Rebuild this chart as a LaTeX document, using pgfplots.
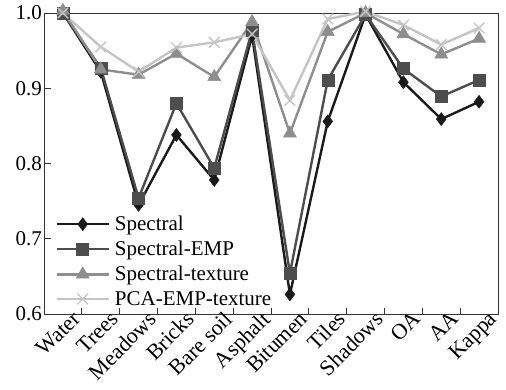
\documentclass[border=0pt]{standalone}
\usepackage{fontspec}
\setmainfont{Liberation Serif}
\usepackage{pgfplots}
\pgfplotsset{compat=1.18}
\definecolor{cA}{HTML}{1A1A1A}
\definecolor{cB}{HTML}{4D4D4D}
\definecolor{cC}{HTML}{8E8E8E}
\definecolor{cD}{HTML}{C4C4C4}
\begin{document}
\begin{tikzpicture}
\useasboundingbox (-44pt,-76pt) rectangle (462pt,314pt);
\begin{axis}[
  scale only axis, width=454pt, height=301pt,
  xmin=-0.5, xmax=11.5, ymin=0.6, ymax=1.0,
  clip=false,
  axis line style={draw=black!80, line width=0.8pt},
  tick style={draw=black!80, line width=0.8pt},
  xtick={0,...,11},
  xticklabels={Water,Trees,Meadows,Bricks,Bare soil,Asphalt,Bitumen,Tiles,Shadows,OA,AA,Kappa},
  major x tick style={draw=none},
  minor xtick={0.5,1.5,...,10.5},
  minor tick length=6pt,
  ytick={0.6,0.7,0.8,0.9,1.0},
  major tick length=7pt,
  tick pos=left,
  tick align=inside,
  yticklabel style={/pgf/number format/fixed, /pgf/number format/fixed zerofill, /pgf/number format/precision=1},
  /pgf/number format/assume math mode=true,
  y tick label style={font=\fontsize{21}{24}\selectfont, inner sep=1pt, xshift=-1pt},
  x tick label style={font=\fontsize{22}{24}\selectfont, rotate=45, anchor=north east, inner sep=1pt, xshift=10pt, yshift=-2pt},
  legend style={at={(0.025,0.02)}, anchor=south west, draw=none, fill=none,
    font=\fontsize{21}{24}\selectfont, row sep=7pt, inner sep=0pt,
    nodes={inner sep=1pt}},
  legend cell align=left,
  legend image code/.code={\draw[mark repeat=2,mark phase=2] plot coordinates {(0pt,0pt) (26pt,0pt) (52pt,0pt)}; \path (56pt,0pt);},
  every axis plot/.append style={line width=2.4pt},
]
\addplot[cA, mark=diamond*, mark size=6.5pt, mark options={solid, line width=0.5pt}] coordinates {
(0,1.0) (1,0.922) (2,0.745) (3,0.838) (4,0.778) (5,0.970) (6,0.626) (7,0.856) (8,0.998) (9,0.908) (10,0.859) (11,0.882)};
\addlegendentry{Spectral}
\addplot[cB, mark=square*, mark size=6pt, mark options={solid, line width=0.5pt}] coordinates {
(0,1.0) (1,0.927) (2,0.754) (3,0.880) (4,0.794) (5,0.977) (6,0.654) (7,0.911) (8,0.998) (9,0.926) (10,0.889) (11,0.911)};
\addlegendentry{Spectral-EMP}
\addplot[cC, mark=triangle*, mark size=7.5pt, mark options={solid, line width=0.5pt}] coordinates {
(0,1.003) (1,0.925) (2,0.918) (3,0.946) (4,0.915) (5,0.988) (6,0.840) (7,0.975) (8,1.0) (9,0.972) (10,0.945) (11,0.966)};
\addlegendentry{Spectral-texture}
\addplot[cD, mark=x, mark size=7.5pt, mark options={solid, line width=1.3pt}] coordinates {
(0,1.0) (1,0.955) (2,0.922) (3,0.954) (4,0.961) (5,0.972) (6,0.884) (7,0.992) (8,1.002) (9,0.984) (10,0.958) (11,0.980)};
\addlegendentry{PCA-EMP-texture}
\end{axis}
\end{tikzpicture}
\end{document}
